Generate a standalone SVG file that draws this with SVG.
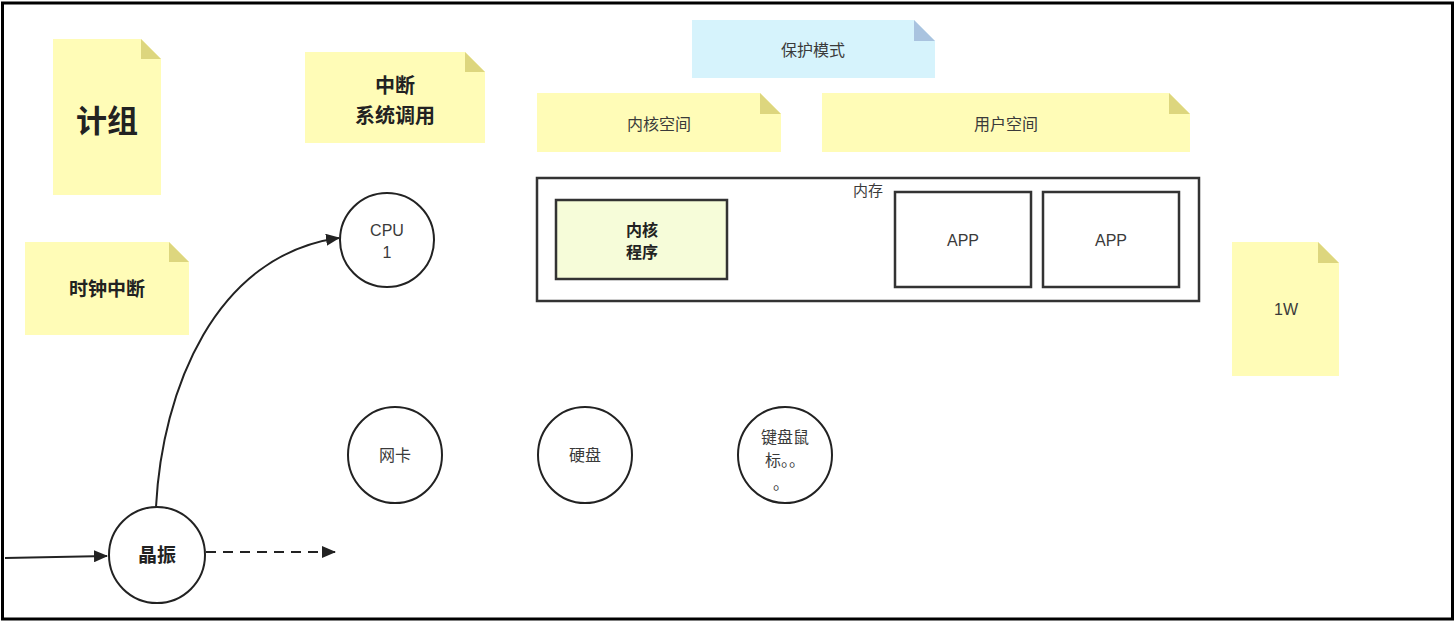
<svg xmlns="http://www.w3.org/2000/svg" width="1456" height="623" viewBox="0 0 1456 623">
<style>
text{font-family:"Liberation Sans","Noto Sans CJK SC",sans-serif;fill:#3a3a3a;text-anchor:middle}
.note{fill:#fffcb7}
.fold{fill:#ddd67e}
.bnote{fill:#d6f3fc}
.bfold{fill:#a9c3df}
.b{font-weight:bold;fill:#222}
.sh{fill:#fff;stroke:#333;stroke-width:2.5}
.c{fill:#fff;stroke:#222;stroke-width:2}
.ln{fill:none;stroke:#222;stroke-width:2}
</style>
<defs>
<marker id="ah2" markerWidth="14" markerHeight="12" refX="13" refY="6" orient="auto" markerUnits="userSpaceOnUse" viewBox="0 0 14 12"><path d="M0,0 L14,6 L0,12 Z" fill="#222"/></marker>
</defs>
<rect x="0" y="0" width="1456" height="623" fill="#fff"/>
<rect x="2.5" y="3" width="1450" height="616" fill="none" stroke="#000" stroke-width="3"/>

<g id="note-jizu">
<path class="note" d="M53,39 H141 L161,59 V195 H53 Z"/>
<path class="fold" d="M141,39 L161,59 H141 Z"/>
<text x="107" y="132" class="b" font-size="31">计组</text>
</g>
<g id="note-interrupt">
<path class="note" d="M305,52 H465 L485,72 V143 H305 Z"/>
<path class="fold" d="M465,52 L485,72 H465 Z"/>
<text x="395" y="93" class="b" font-size="20">中断</text>
<text x="395" y="123" class="b" font-size="20">系统调用</text>
</g>
<g id="note-clock">
<path class="note" d="M25,242 H169 L189,262 V335 H25 Z"/>
<path class="fold" d="M169,242 L189,262 H169 Z"/>
<text x="107" y="296" class="b" font-size="19">时钟中断</text>
</g>
<g id="note-protect">
<path class="bnote" d="M692,20 H914 L935,41 V78 H692 Z"/>
<path class="bfold" d="M914,20 L935,41 H914 Z"/>
<text x="813" y="56" font-size="16">保护模式</text>
</g>
<g id="note-kernel-space">
<path class="note" d="M537,93 H760 L781,114 V152 H537 Z"/>
<path class="fold" d="M760,93 L781,114 H760 Z"/>
<text x="659" y="130" font-size="16">内核空间</text>
</g>
<g id="note-user-space">
<path class="note" d="M822,93 H1169 L1190,114 V152 H822 Z"/>
<path class="fold" d="M1169,93 L1190,114 H1169 Z"/>
<text x="1006" y="130" font-size="16">用户空间</text>
</g>
<g id="note-1w">
<path class="note" d="M1232,242 H1318 L1339,263 V376 H1232 Z"/>
<path class="fold" d="M1318,242 L1339,263 H1318 Z"/>
<text x="1286" y="315" font-size="16">1W</text>
</g>

<g id="memory">
<rect class="sh" x="537" y="178" width="662" height="123"/>
<text x="868" y="196" font-size="15">内存</text>
</g>
<g id="kernel-program">
<rect x="556" y="200" width="171" height="79" fill="#f6fcd9" stroke="#333" stroke-width="2.5"/>
<text x="642" y="236" class="b" font-size="16">内核</text>
<text x="642" y="258" class="b" font-size="16">程序</text>
</g>
<g id="app1">
<rect class="sh" x="895" y="192" width="136" height="95"/>
<text x="963" y="246" font-size="16">APP</text>
</g>
<g id="app2">
<rect class="sh" x="1043" y="192" width="136" height="95"/>
<text x="1111" y="246" font-size="16">APP</text>
</g>

<g id="cpu">
<ellipse class="c" cx="387" cy="240" rx="47" ry="47"/>
<text x="387" y="236" font-size="16">CPU</text>
<text x="387" y="258" font-size="16">1</text>
</g>
<g id="nic">
<ellipse class="c" cx="395" cy="455" rx="47" ry="48"/>
<text x="395" y="461" font-size="16">网卡</text>
</g>
<g id="disk">
<ellipse class="c" cx="585" cy="455" rx="47" ry="48"/>
<text x="585" y="461" font-size="16">硬盘</text>
</g>
<g id="kbd">
<ellipse class="c" cx="785" cy="455" rx="47" ry="48"/>
<text x="785" y="443" font-size="16">键盘鼠</text>
<text x="785" y="466" font-size="16">标。。</text>
<text x="781" y="489" font-size="16">。</text>
</g>
<g id="crystal">
<ellipse class="c" cx="157" cy="555" rx="48" ry="48"/>
<text x="157" y="562" class="b" font-size="19">晶振</text>
</g>

<g id="connectors">
<path class="ln" d="M5,558 L107,556" stroke-width="2.5" marker-end="url(#ah2)"/>
<path class="ln" d="M206,552 L335,552" stroke-dasharray="10,7" marker-end="url(#ah2)"/>
<path class="ln" d="M156,507 C162,390 215,255 339,238" marker-end="url(#ah2)"/>
</g>
</svg>
